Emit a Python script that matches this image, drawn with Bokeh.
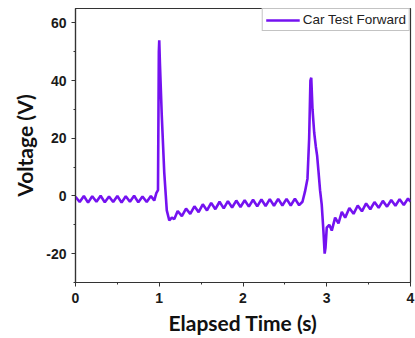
from bokeh.plotting import figure
from bokeh.models import Range1d, Legend, LegendItem, FixedTicker
from bokeh.embed import file_html
from bokeh.resources import INLINE

# Elapsed time (s) and voltage (V)
time_s = [
    0.00, 0.05, 0.10, 0.15, 0.20, 0.25, 0.30, 0.35, 0.40, 0.45,
    0.50, 0.55, 0.60, 0.65, 0.70, 0.75, 0.80, 0.85, 0.90, 0.94,
    0.965, 0.985, 0.995, 1.000, 1.008, 1.03, 1.06, 1.09, 1.12, 1.15,
    1.18, 1.22, 1.27, 1.32, 1.37, 1.42, 1.47, 1.52, 1.57, 1.62,
    1.67, 1.72, 1.77, 1.82, 1.87, 1.92, 1.97, 2.02, 2.07, 2.12,
    2.17, 2.22, 2.27, 2.32, 2.37, 2.42, 2.47, 2.52, 2.57, 2.62,
    2.67, 2.71, 2.74, 2.77, 2.79, 2.805, 2.815, 2.83, 2.85, 2.87,
    2.885, 2.90, 2.92, 2.94, 2.96, 2.975, 2.985, 3.00, 3.03, 3.06,
    3.10, 3.14, 3.18, 3.22, 3.27, 3.32, 3.37, 3.42, 3.47, 3.52,
    3.57, 3.62, 3.67, 3.72, 3.77, 3.82, 3.87, 3.92, 3.97, 4.00,
]
voltage_v = [
    -0.3, -2.1, 0.0, -2.3, -0.1, -2.0, 0.1, -2.2, -0.2, -2.1,
    0.0, -2.3, -0.1, -2.0, 0.1, -2.2, -0.2, -2.1, 0.0, -1.6,
    1.0, 2.0, 50.0, 54.0, 46.0, 28.0, 8.0, -5.0, -8.5, -7.5,
    -8.0, -5.2, -7.0, -4.4, -6.2, -3.6, -5.6, -2.9, -5.0, -2.4,
    -4.6, -2.0, -4.3, -1.8, -4.0, -1.6, -3.8, -1.5, -3.7, -1.3,
    -3.6, -1.2, -3.5, -1.1, -3.4, -1.0, -3.3, -1.0, -3.3, -0.9,
    -3.2, -2.0, 1.5, 6.0, 20.0, 40.0, 41.0, 30.0, 22.0, 17.0,
    14.0, 9.0, 2.0, -3.0, -12.0, -20.0, -18.0, -11.0, -10.0, -12.0,
    -7.5, -9.5, -5.5, -7.5, -4.2, -6.2, -3.3, -5.3, -2.6, -4.6,
    -2.1, -4.1, -1.7, -3.7, -1.4, -3.4, -1.1, -3.1, -0.9, -2.0,
]
series_name = "Car Test Forward"
x_ticks = [0, 1, 2, 3, 4]
x_minor = [0.5, 1.5, 2.5, 3.5]
y_ticks = [-20, 0, 20, 40, 60]
y_minor = [-30, -10, 10, 30, 50]
y_tick_labels = ["-20", "0", "20", "40", "60"]

p = figure(width=415, height=338, output_backend="svg", toolbar_location=None,
           x_range=Range1d(0, 4), y_range=Range1d(-30, 65),
           min_border_left=75, min_border_right=5, min_border_top=8, min_border_bottom=56)
p.background_fill_color = "white"
p.border_fill_color = "white"
p.outline_line_color = "#333333"
p.outline_line_width = 1.2
p.grid.visible = False

line_color = "#7412F0"
r = p.line(time_s, voltage_v, line_color=line_color, line_width=2.6)

for ax in (p.xaxis[0], p.yaxis[0]):
    ax.axis_line_color = "#333333"
    ax.axis_line_width = 1.2
    ax.major_tick_line_color = "#333333"
    ax.minor_tick_line_color = "#333333"
    ax.major_tick_out = 4
    ax.major_tick_in = 0
    ax.minor_tick_out = 2
    ax.minor_tick_in = 0
    ax.major_label_text_font = "Liberation Sans"
    ax.major_label_text_font_style = "bold"
    ax.major_label_text_font_size = "14px"
    ax.major_label_text_color = "#1a1a1a"
    ax.axis_label_text_font = "Lato"
    ax.axis_label_text_font_style = "bold"
    ax.axis_label_text_font_size = "21px"
    ax.axis_label_text_color = "#111111"

p.xaxis[0].ticker = FixedTicker(ticks=x_ticks, minor_ticks=x_minor)
p.yaxis[0].ticker = FixedTicker(ticks=y_ticks, minor_ticks=y_minor)
p.yaxis[0].major_label_overrides = {t: s for t, s in zip(y_ticks, y_tick_labels)}
p.xaxis.axis_label = "Elapsed Time (s)"
p.yaxis.axis_label = "Voltage (V)"
p.xaxis.major_label_standoff = 6
p.yaxis.major_label_standoff = 5
p.xaxis.axis_label_standoff = 4
p.yaxis.axis_label_standoff = 6

legend = Legend(items=[LegendItem(label=series_name, renderers=[r])],
                location="top_right", margin=0, padding=3, spacing=0,
                label_text_font="Liberation Sans", label_text_font_size="13.5px",
                label_text_color="#222222", glyph_width=34, glyph_height=14,
                label_standoff=3, border_line_color="#888888", border_line_width=1,
                background_fill_alpha=1.0)
p.add_layout(legend)

open("out.html", "w").write(file_html(p, INLINE))
